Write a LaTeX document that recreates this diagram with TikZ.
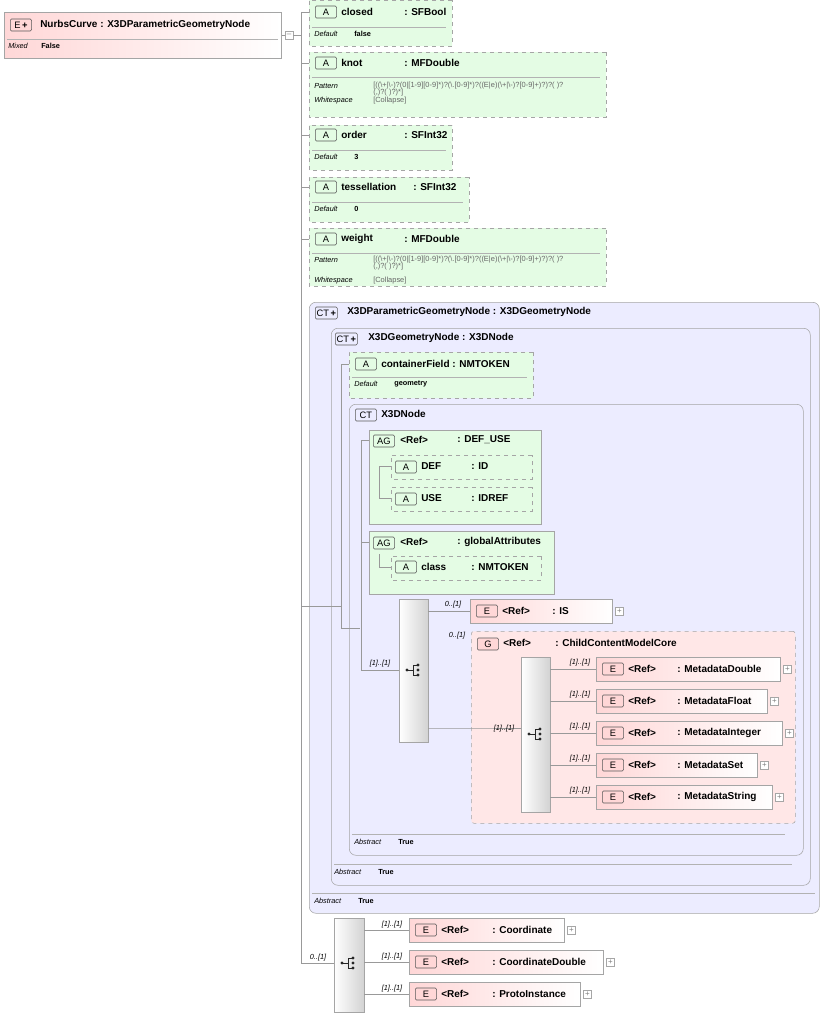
\documentclass[tikz,border=0pt]{standalone}
\usepackage{fontspec}
\setmainfont{Liberation Sans}
\usetikzlibrary{shapes.misc,positioning}
\definecolor{elfill}{RGB}{255,215,215}
\definecolor{atfill}{RGB}{228,252,228}
\definecolor{ctfill}{RGB}{236,236,255}
\definecolor{bord}{RGB}{165,165,165}
\tikzset{
  conn/.style={draw=gray!80, line width=0.5pt},
  elem/.style={draw=bord, left color=elfill, right color=white, inner sep=0pt},
  attr/.style={chamfered rectangle, chamfered rectangle xsep=3pt, draw=bord, dashed, fill=atfill, inner sep=0pt},
  agrp/.style={chamfered rectangle, chamfered rectangle xsep=5pt, draw=bord, fill=atfill, inner sep=0pt},
  ctype/.style={draw=bord, fill=ctfill, rounded corners=5pt, inner sep=0pt},
  grp/.style={draw=bord, dashed, fill=elfill!60, rounded corners=2pt, inner sep=0pt},
  seqb/.style={draw=bord, left color=white, right color=gray!35, inner sep=0pt},
  badge/.style={draw=gray!70!black, fill=#1, rounded corners=1pt, inner sep=1pt, minimum width=16pt, minimum height=9pt, font=\fontsize{7}{8}\selectfont},
  ttl/.style={font=\bfseries\fontsize{7.5}{9}\selectfont, inner sep=0pt, anchor=west},
  sml/.style={font=\itshape\fontsize{5.5}{6}\selectfont, inner sep=0pt, anchor=west},
  val/.style={font=\bfseries\fontsize{5.5}{6}\selectfont, inner sep=0pt, anchor=west},
  pat/.style={font=\fontsize{5.6}{6}\selectfont, text=gray!80!black, inner sep=0pt, anchor=west},
  card/.style={font=\itshape\fontsize{5.5}{6}\selectfont, inner sep=0pt},
  plus/.style={draw=gray!70, fill=white, minimum size=6pt, inner sep=0pt, font=\fontsize{6}{6}\selectfont, text=gray}
}
\newcommand\schbox[6]{\node[#6, anchor=north west, minimum width={((#4)-(#2))*0.75pt}, minimum height={((#5)-(#3))*0.75pt}] (#1) at (#2,#3) {};}
\newcommand\seqicon[2]{%
  \fill[gray!30!black] (#1-7,#2) circle (1.6);
  \draw[gray!30!black, line width=0.6pt] (#1-7,#2) -- (#1-1,#2) (#1-1,#2-5) -- (#1-1,#2+5)
    (#1-1,#2-5) -- (#1+3,#2-5) (#1-1,#2+5) -- (#1+3,#2+5);
  \foreach \d in {-5,0,5} \fill[gray!30!black] (#1+4,#2+\d) circle (1.6);}
\newcommand\erow[6]{% name, x1, y, x2, type, type offset
  \schbox{#1}{#2}{#3-12}{#4}{#3+12}{elem}
  \node[badge=elfill, anchor=west] at (#2+6,#3) {E};
  \node[ttl] at (#2+32,#3) {<Ref>};
  \node[ttl] at (#2+#6,#3) {: #5};
  \node[plus, right=2pt of #1.east] {+};}

\begin{document}
\begin{tikzpicture}[x=0.75pt,y=0.75pt,yscale=-1]
\useasboundingbox (0,0) rectangle (824,1016);

% root element
\schbox{root}{4}{12}{281}{58}{elem}
\node[badge=elfill, anchor=west] at (10,25) {E\,\textbf{+}};
\node[ttl] at (40,25) {NurbsCurve : X3DParametricGeometryNode};
\draw[gray!60] (7,39) -- (278,39);
\node[sml] at (8,46) {Mixed};
\node[val] at (41,46) {False};
\node[plus] (rootm) at (289,35) {--};
\draw[conn] (root.east |- rootm) -- (rootm) -- (301,35);
\draw[conn] (301,12) -- (301,963);

% attributes
\schbox{closed}{309}{0}{452}{46}{attr}
\node[badge=atfill, anchor=west] at (315,12) {A};
\node[ttl] at (341,12) {closed}; \node[ttl] at (404,12) {: SFBool};
\draw[gray!60] (312,27) -- (446,27);
\node[sml] at (314,34) {Default}; \node[val] at (354,34) {false};

\schbox{knot}{309}{52}{606}{117}{attr}
\node[badge=atfill, anchor=west] at (315,63) {A};
\node[ttl] at (341,63) {knot}; \node[ttl] at (404,63) {: MFDouble};
\draw[gray!60] (312,77) -- (600,77);
\node[sml] at (314,86) {Pattern};
\node[pat] at (373,86) {[((\textbackslash+|\textbackslash-)?(0|[1-9][0-9]*)?(\textbackslash.[0-9]*)?((E|e)(\textbackslash+|\textbackslash-)?[0-9]+)?)?( )?};
\node[pat] at (373,93) {(,)?( )?)*]};
\node[sml] at (314,101) {Whitespace}; \node[pat] at (373,101) {[Collapse]};

\schbox{order}{309}{125}{452}{170}{attr}
\node[badge=atfill, anchor=west] at (315,135) {A};
\node[ttl] at (341,135) {order}; \node[ttl] at (404,135) {: SFInt32};
\draw[gray!60] (312,150) -- (446,150);
\node[sml] at (314,157) {Default}; \node[val] at (354,157) {3};

\schbox{tess}{309}{177}{469}{222}{attr}
\node[badge=atfill, anchor=west] at (315,187) {A};
\node[ttl] at (341,187) {tessellation}; \node[ttl] at (413,187) {: SFInt32};
\draw[gray!60] (312,202) -- (463,202);
\node[sml] at (314,209) {Default}; \node[val] at (354,209) {0};

\schbox{weight}{309}{228}{606}{286}{attr}
\node[badge=atfill, anchor=west] at (315,239) {A};
\node[ttl] at (341,239) {weight}; \node[ttl] at (404,239) {: MFDouble};
\draw[gray!60] (312,253) -- (600,253);
\node[sml] at (314,260) {Pattern};
\node[pat] at (373,260) {[((\textbackslash+|\textbackslash-)?(0|[1-9][0-9]*)?(\textbackslash.[0-9]*)?((E|e)(\textbackslash+|\textbackslash-)?[0-9]+)?)?( )?};
\node[pat] at (373,267) {(,)?( )?)*]};
\node[sml] at (314,281) {Whitespace}; \node[pat] at (373,281) {[Collapse]};

\foreach \n/\y in {closed/12,knot/63,order/135,tess/187,weight/239}
  \draw[conn] (301,\y) -- (\n.west |- 0,\y);

% complex types
\schbox{ctpar}{309}{302}{819}{913}{ctype}
\node[badge=ctfill, anchor=west] at (315,313) {CT\,\textbf{+}};
\node[ttl] at (347,312) {X3DParametricGeometryNode : X3DGeometryNode};
\draw[gray!60] (312,893) -- (815,893);
\node[sml] at (314,901) {Abstract}; \node[val] at (358,901) {True};

\schbox{ctgeo}{331}{328}{810}{885}{ctype}
\node[badge=ctfill, anchor=west] at (335,339) {CT\,\textbf{+}};
\node[ttl] at (368,338) {X3DGeometryNode : X3DNode};
\draw[gray!60] (334,864) -- (792,864);
\node[sml] at (334,872) {Abstract}; \node[val] at (378,872) {True};

\schbox{cfield}{349}{352}{533}{398}{attr}
\node[badge=atfill, anchor=west] at (355,364) {A};
\node[ttl] at (381,364) {containerField : NMTOKEN};
\draw[gray!60] (352,377) -- (527,377);
\node[sml] at (354,384) {Default}; \node[val] at (394,384) {geometry};

\schbox{ctnode}{349}{404}{803}{855}{ctype}
\node[badge=ctfill, anchor=west] at (355,415) {CT};
\node[ttl] at (381,414) {X3DNode};
\draw[gray!60] (352,834) -- (785,834);
\node[sml] at (354,842) {Abstract}; \node[val] at (398,842) {True};

% attribute groups
\schbox{defuse}{369}{430}{541}{524}{agrp}
\node[badge=atfill, anchor=west] at (373,441) {AG};
\node[ttl] at (400,440) {<Ref>}; \node[ttl] at (457,440) {: DEF\_USE};
\schbox{def}{391}{455}{532}{479}{attr}
\node[badge=atfill, anchor=west] at (395,467) {A};
\node[ttl] at (421,466) {DEF}; \node[ttl] at (471,466) {: ID};
\schbox{use}{391}{487}{532}{511}{attr}
\node[badge=atfill, anchor=west] at (395,499) {A};
\node[ttl] at (421,498) {USE}; \node[ttl] at (471,498) {: IDREF};

\schbox{glob}{369}{531}{554}{594}{agrp}
\node[badge=atfill, anchor=west] at (373,543) {AG};
\node[ttl] at (400,542) {<Ref>}; \node[ttl] at (457,542) {: globalAttributes};
\schbox{cls}{391}{556}{541}{580}{attr}
\node[badge=atfill, anchor=west] at (395,567) {A};
\node[ttl] at (421,567) {class}; \node[ttl] at (471,567) {: NMTOKEN};

% structure lines
\draw[conn] (301,606) -- (341,606);
\draw[conn] (341,364) -- (341,628) -- (360,628);
\draw[conn] (341,364) -- (cfield.west |- 0,364);
\draw[conn] (361,440) -- (361,670) -- (399,670);
\draw[conn] (361,440) -- (defuse.west |- 0,440) (361,542) -- (glob.west |- 0,542);
\draw[conn] (379,466) -- (379,498) (379,466) -- (def.west |- 0,466) (379,498) -- (use.west |- 0,498);
\draw[conn] (379,567) -- (cls.west |- 0,567) (379,567) -- (379,554);
\node[card] at (380,664) {[1]..[1]};

% sequence
\schbox{seq}{399}{599}{428}{742}{seqb}
\seqicon{414}{670}
\erow{is}{470}{611}{612}{IS}{82}
\draw[conn] (428,611) -- (is.west |- 0,611);
\node[card] at (453,605) {0..[1]};

\schbox{ccmc}{471}{631}{795}{823}{grp}
\node[badge=elfill, anchor=west] at (477,644) {G};
\node[ttl] at (503,643) {<Ref>}; \node[ttl] at (555,643) {: ChildContentModelCore};
\node[card] at (457,636) {0..[1]};
\draw[conn] (428,728) -- (471,728) -- (521,728);
\node[card] at (504,729) {[1]..[1]};

\schbox{chc}{521}{657}{550}{812}{seqb}
\seqicon{536}{734}
\erow{mdd}{596}{669}{780}{MetadataDouble}{81}
\erow{mdf}{596}{701}{767}{MetadataFloat}{81}
\erow{mdi}{596}{733}{782}{MetadataInteger}{81}
\erow{mds}{596}{765}{757}{MetadataSet}{81}
\erow{mdst}{596}{797}{772}{MetadataString}{81}
\foreach \n/\y in {mdd/669,mdf/701,mdi/733,mds/765,mdst/797}{
  \draw[conn] (550,\y) -- (\n.west |- 0,\y);
  \node[card] at (580,\y-6) {[1]..[1]};}

% bottom choice
\schbox{chb}{334}{918}{364}{1012}{seqb}
\seqicon{349}{963}
\draw[conn] (301,963) -- (chb.west |- 0,963);
\node[card] at (318,958) {0..[1]};
\erow{coord}{409}{930}{564}{Coordinate}{83}
\erow{coordd}{409}{962}{603}{CoordinateDouble}{83}
\erow{proto}{409}{994}{580}{ProtoInstance}{83}
\foreach \n/\y in {coord/930,coordd/962,proto/994}{
  \draw[conn] (364,\y) -- (\n.west |- 0,\y);
  \node[card] at (392,\y-5) {[1]..[1]};}
\end{tikzpicture}
\end{document}
